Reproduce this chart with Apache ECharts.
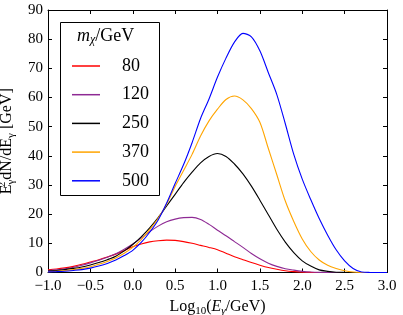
<!DOCTYPE html>
<html><head><meta charset="utf-8">
<script src="https://cdn.jsdelivr.net/npm/echarts@6/dist/echarts.min.js"></script>
<style>html,body{margin:0;padding:0;background:#fff}#c{width:403px;height:315px}</style>
</head><body><div id="c"></div>
<script>
var logE = [-1.0,-0.9,-0.8,-0.7,-0.6,-0.5,-0.4,-0.3,-0.2,-0.1,0.0,0.1,0.2,0.3,0.4,0.5,0.6,0.7,0.8,0.9,1.0,1.1,1.2,1.3,1.4,1.5,1.6,1.7,1.8,1.9,2.0,2.1,2.2,2.3,2.4,2.5,2.6,2.7,2.8,2.9,3.0];
var m80  = [0.9,1.2,1.6,2.1,2.8,3.6,4.4,5.3,6.3,7.5,8.8,9.8,10.5,10.9,11.1,11.0,10.6,10.0,9.3,8.6,7.8,6.6,5.4,4.4,3.4,2.5,1.7,1.1,0.6,0.3,0.1,0.03,0,0,0,0,0,0,0,0,0];
var m120 = [0.7,0.9,1.3,1.8,2.5,3.3,4.2,5.2,6.4,8.0,9.8,11.8,14.0,15.9,17.4,18.3,18.8,18.9,18.2,16.5,14.5,12.6,10.6,8.6,6.5,4.7,3.2,2.1,1.3,0.8,0.4,0.15,0.03,0,0,0,0,0,0,0,0];
var m250 = [0.5,0.7,1.0,1.4,1.9,2.6,3.4,4.4,5.6,7.4,9.6,12.2,15.3,18.8,22.8,26.8,30.8,34.4,37.6,39.8,40.8,39.8,37.2,33.8,29.6,24.8,19.8,14.8,10.4,6.8,4.0,2.2,0.9,0.4,0.1,0.02,0,0,0,0,0];
var m370 = [0.3,0.45,0.7,1.0,1.4,2.0,2.8,3.8,5.0,6.6,8.6,11.3,14.7,18.6,23.5,29.5,35.0,40.5,46.8,52.0,56.0,59.3,60.5,59.2,56.2,51.5,42.5,33.5,24.5,17.5,11.5,7.2,4.3,2.5,1.4,0.6,0.15,0.02,0,0,0];
var m500 = [0.2,0.3,0.45,0.7,1.0,1.5,2.2,3.1,4.3,5.8,7.6,10.3,13.8,18.0,23.8,30.5,37.0,44.5,52.8,59.5,67.0,73.5,79.0,82.0,80.8,76.0,68.5,61.0,51.0,40.5,32.0,25.0,18.5,12.8,7.8,4.0,1.4,0.2,0.02,0,0];
var massLabels = ['80','120','250','370','500'];
var colors = ['#ff0000','#8e2a94','#000000','#ffa500','#0000ff'];
var allSeries = [m80,m120,m250,m370,m500];

var FONT = 'Liberation Serif';
function pairs(v){ return logE.map(function(x,i){ return [x, v[i]]; }); }
function fmt(v){ return (v < 0 ? '\u2212' : '') + Math.abs(v).toFixed(1); }

var chart = echarts.init(document.getElementById('c'), null, {renderer:'canvas'});
var axisCommon = {
  axisLine:{show:true, onZero:false, lineStyle:{color:'#000', width:1}},
  axisTick:{show:true, inside:true, length:4, lineStyle:{color:'#000'}},
  splitLine:{show:false}
};
chart.setOption({
  animation:false,
  grid:{left:48, right:16, top:10, bottom:42.5, containLabel:false, outerBoundsMode:'none'},
  xAxis:[
    Object.assign({type:'value', min:-1, max:3, interval:0.5, position:'bottom',
      axisLabel:{formatter:fmt, fontFamily:FONT, fontSize:15, color:'#000', margin:6},
      name:'{n|Log}{s|10}{n|(}{i|E}{si|\u03b3}{n|/GeV)}', nameLocation:'middle', nameGap:17,
      nameTextStyle:{rich:{
        n:{fontFamily:FONT, fontSize:16, color:'#000', lineHeight:20, verticalAlign:'middle'},
        i:{fontFamily:FONT, fontSize:16, fontStyle:'italic', color:'#000', lineHeight:20},
        s:{fontFamily:FONT, fontSize:11, color:'#000', verticalAlign:'bottom', lineHeight:20},
        si:{fontFamily:FONT, fontSize:11, fontStyle:'italic', color:'#000', verticalAlign:'bottom', lineHeight:20}
      }}
    }, axisCommon),
    Object.assign({type:'value', min:-1, max:3, interval:0.5, position:'top', axisLabel:{show:false}}, axisCommon)
  ],
  yAxis:[
    Object.assign({type:'value', min:0, max:90, interval:10, position:'left',
      axisLabel:{fontFamily:FONT, fontSize:15, color:'#000', margin:5},
      name:'{n|E}{sp|2}{sb|\u03b3}{n|dN/dE}{sb|\u03b3}{n| [GeV]}', nameLocation:'middle', nameGap:27, nameRotate:90,
      nameTextStyle:{rich:{
        n:{fontFamily:FONT, fontSize:16, color:'#000', lineHeight:20},
        sp:{fontFamily:FONT, fontSize:11, color:'#000', verticalAlign:'top', lineHeight:20, width:0},
        sb:{fontFamily:FONT, fontSize:11, color:'#000', verticalAlign:'bottom', lineHeight:20}
      }}
    }, axisCommon),
    Object.assign({type:'value', min:0, max:90, interval:10, position:'right', axisLabel:{show:false}}, axisCommon)
  ],
  legend:{
    orient:'vertical', left:67, top:52, itemWidth:28, itemHeight:1.5, itemGap:10.7, icon:'rect',
    data:massLabels,
    textStyle:{fontFamily:FONT, fontSize:18, color:'#000', padding:[0,0,0,17]},
    selectedMode:false
  },
  graphic:[
    {type:'rect', left:58, top:20, shape:{width:99, height:173}, style:{fill:'none', stroke:'#000', lineWidth:1}, z:1},
    {type:'text', left:77, top:27, style:{
      text:'{i|m}{s|\u03c7}{n|/GeV}',
      rich:{
        i:{fontFamily:FONT, fontSize:18, fontStyle:'italic', fill:'#000', lineHeight:20},
        s:{fontFamily:FONT, fontSize:12, fontStyle:'italic', fill:'#000', verticalAlign:'bottom', lineHeight:20},
        n:{fontFamily:FONT, fontSize:18, fill:'#000', lineHeight:20}
      }}, z:2}
  ],
  series: allSeries.map(function(v,k){
    return {name:massLabels[k], type:'line', data:pairs(v), symbol:'none', smooth:0.3,
      lineStyle:{color:colors[k], width:1.1}, itemStyle:{color:colors[k]}, z:3+k};
  })
});
</script></body></html>
